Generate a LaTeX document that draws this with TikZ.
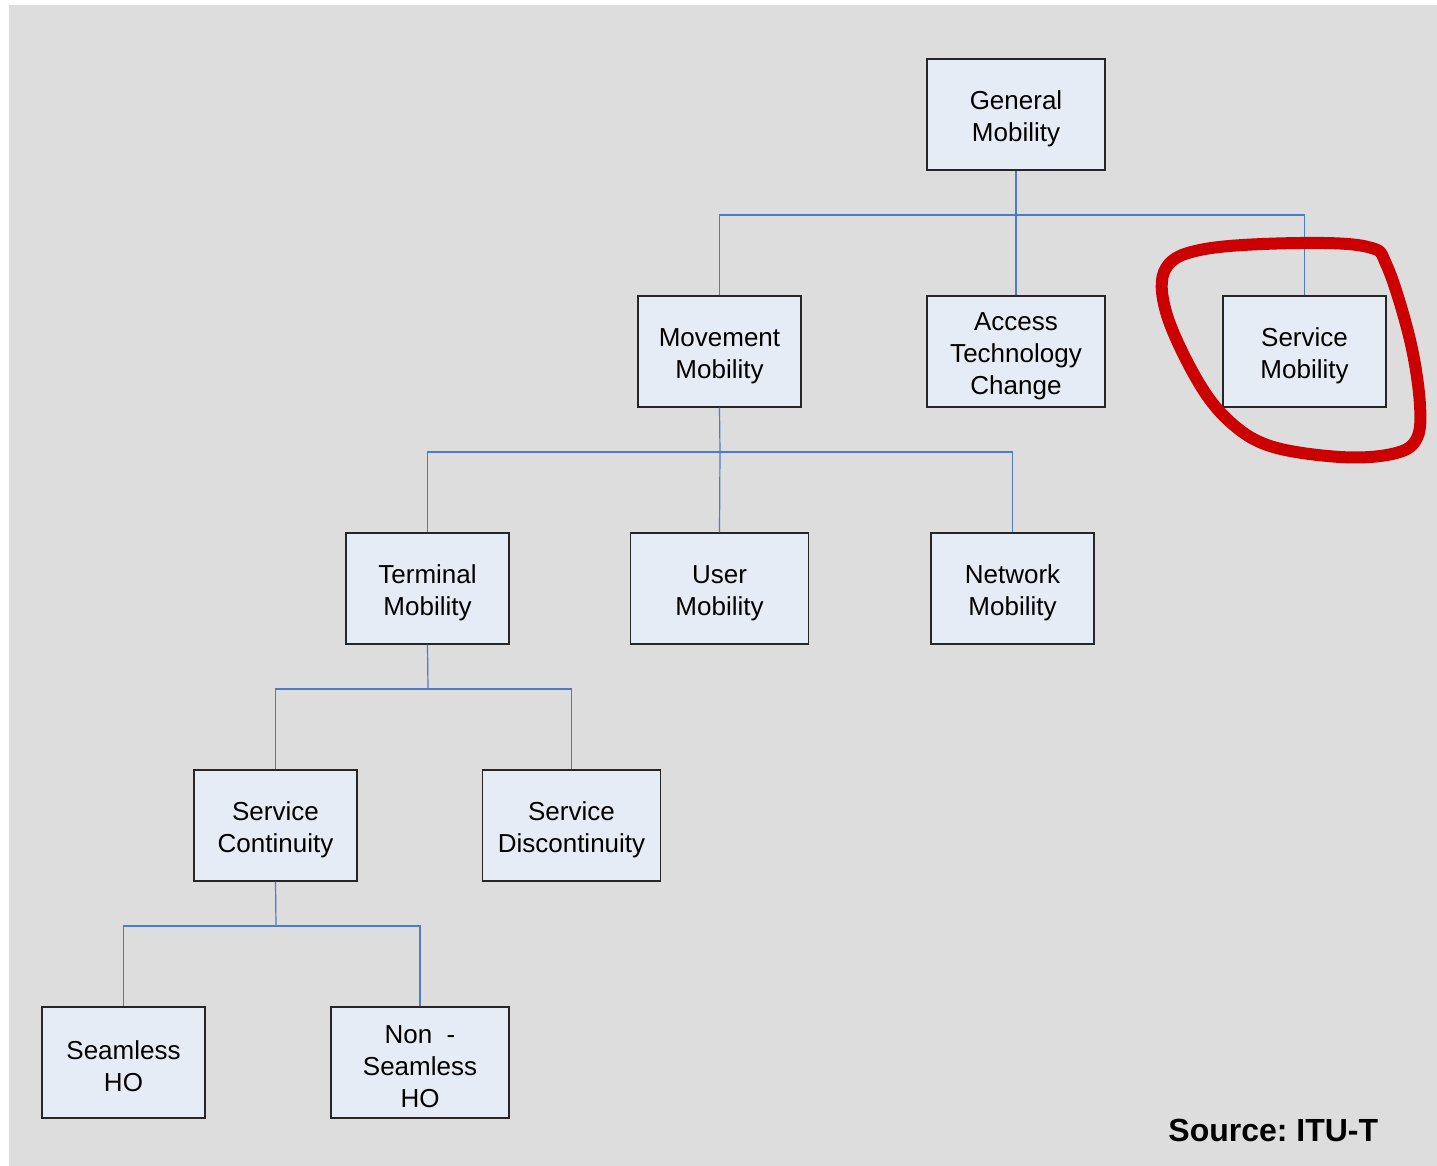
\documentclass[tikz,border=0pt]{standalone}
\usepackage{fontspec}
\setmainfont{Liberation Sans}
\definecolor{pagebg}{HTML}{DDDDDD}
\definecolor{boxfill}{HTML}{E6ECF6}
\definecolor{linkblue}{HTML}{4A7CC8}
\definecolor{markred}{HTML}{CC0000}
\tikzset{
  box/.style={draw=black!85, line width=0.7pt, fill=boxfill, rectangle,
    minimum height=55.5pt, inner sep=0pt, align=center,
    font=\fontsize{13}{16}\selectfont, text height=29.4pt},
  threeline/.style={text height=45.4pt},
  narrow/.style={box, minimum width=81.5pt},
  wide/.style={box, minimum width=89pt},
  conn/.style={draw=linkblue, line width=0.6pt},
}
\begin{document}
\begin{tikzpicture}[x=0.5pt, y=-0.5pt]
\useasboundingbox (0,0) rectangle (1437,1166);
\fill[white] (0,0) rectangle (1437,1166);
\fill[pagebg] (9,5) rectangle (1437,1166);

% level 0
\node[wide]   (gm)  at (1016,114.5) {General\\Mobility};
% level 1
\node[narrow] (mm)  at (719.5,351.5) {Movement\\Mobility};
\node[wide, threeline] (atc) at (1016,351.5) {Access\\Technology\\Change};
\node[narrow] (sm)  at (1304.5,351.5) {Service\\Mobility};
% level 2
\node[narrow] (tm)  at (427.5,588.5) {Terminal\\Mobility};
\node[wide]   (um)  at (719.5,588.5) {User\\Mobility};
\node[narrow] (nm)  at (1012.5,588.5) {Network\\Mobility};
% level 3
\node[narrow] (sc)  at (275.5,825.5) {Service\\Continuity};
\node[wide]   (sd)  at (571.5,825.5) {Service\\Discontinuity};
% level 4
\node[narrow] (sh)  at (123.5,1062.5) {Seamless\\HO};
\node[wide, threeline] (nsh) at (420,1062.5) {Non\ \ -\\Seamless\\HO};

% junctions of the tree
\coordinate (j1) at (1016,215);
\coordinate (j2) at (720,452);
\coordinate (j3) at (428,689);
\coordinate (j4) at (276,926);

\draw[conn] (gm.south) -- (j1);
\draw[conn] (mm.north) |- (j1);
\draw[conn] (atc.north) -- (j1);
\draw[conn] (sm.north) |- (j1);

\draw[conn] (mm.south) -- (j2);
\draw[conn] (tm.north) |- (j2);
\draw[conn] (um.north) -- (j2);
\draw[conn] (nm.north) |- (j2);

\draw[conn] (tm.south) -- (j3);
\draw[conn] (sc.north) |- (j3);
\draw[conn] (sd.north) |- (j3);

\draw[conn] (sc.south) -- (j4);
\draw[conn] (sh.north) |- (j4);
\draw[conn] (nsh.north) |- (j4);

% hand-drawn highlight loop
\draw[markred, line width=6pt, line join=round]
  plot[smooth cycle, tension=0.6] coordinates {
    (1166,268) (1205,249) (1300,243) (1368,247) (1387,266)
    (1410,340) (1420,405) (1416,440) (1392,454) (1340,457)
    (1270,446) (1228,420) (1196,378) (1166,312)};

\node[anchor=base west, font=\fontsize{16}{19}\selectfont\bfseries, inner sep=0pt]
  (src) at (1168,1141) {Source:\ ITU-T};
\end{tikzpicture}
\end{document}
